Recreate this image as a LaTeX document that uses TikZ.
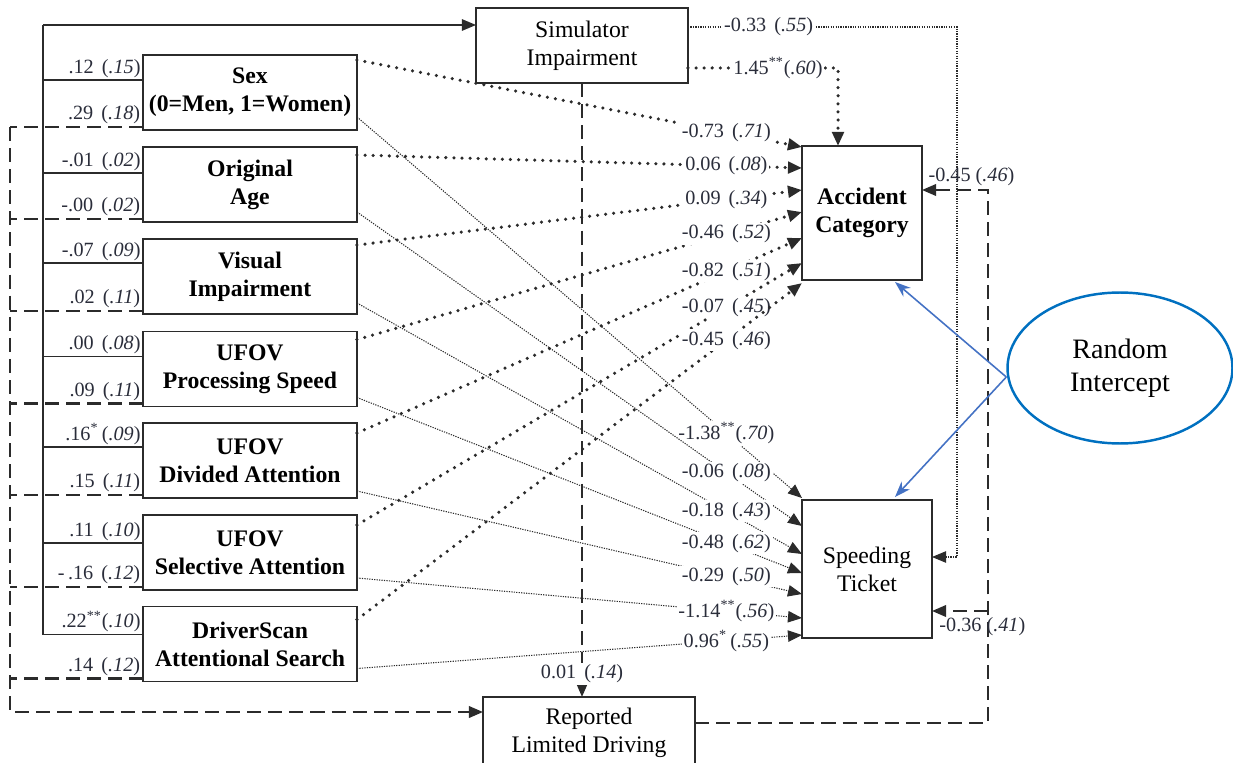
\documentclass[tikz,border=0pt]{standalone}
\usepackage{fontspec}
\setmainfont{Liberation Serif}
\usepackage{xcolor}
\definecolor{labelcol}{HTML}{2A2D3A}
\definecolor{linecol}{HTML}{2B2B2B}
\definecolor{riblue}{HTML}{0070C0}
\definecolor{riarrow}{HTML}{4472C4}
\usepackage{tikz}
\usetikzlibrary{arrows.meta, shapes.geometric, calc}

\newcommand{\boxfont}{\fontsize{13.5pt}{16pt}\selectfont}
\newcommand{\estfont}{\fontsize{11.5pt}{13pt}\selectfont}
\newcommand{\est}[2]{#1\hspace{0.4em}(\textit{#2})}

\tikzset{
  varbox/.style={draw=linecol, line width=0.8pt, outer sep=0pt, inner sep=1pt, align=center,
    minimum width=4.28cm, minimum height=1.5cm, font=\boxfont\bfseries},
  outbox/.style={draw=linecol, line width=0.8pt, outer sep=0pt, inner sep=1pt, align=center, font=\boxfont},
  estlbl/.style={font=\estfont, text=labelcol, inner sep=1pt},
  estwhite/.style={estlbl, fill=white},
  solidln/.style={draw=linecol, line width=0.8pt},
  dashln/.style={draw=linecol, line width=1.3pt, dash pattern=on 8pt off 4pt},
  bigdot/.style={draw=linecol, line width=2pt, line cap=round, dash pattern=on 0pt off 4.6pt},
  finedot/.style={draw=linecol, line width=0.6pt, dash pattern=on 0.7pt off 0.7pt},
  riarr/.style={color=riarrow, line width=0.9pt, -{Stealth[length=9pt, width=6.5pt]}}
}

\begin{document}
\begin{tikzpicture}[x=0.02cm, y=-0.02cm, >={Triangle[length=8pt, width=6.5pt]}]
  \useasboundingbox (0,0) rectangle (1233,763);
  \clip (0,0) rectangle (1233,763);

  % predictors
  \node[varbox] (sex)   at (250,92.5)  {Sex\\(0=Men, 1=Women)};
  \node[varbox] (age)   at (250,184.5) {Original\\Age};
  \node[varbox] (vis)   at (250,276.5) {Visual\\Impairment};
  \node[varbox] (ufps)  at (250,369)   {UFOV\\Processing Speed};
  \node[varbox] (ufda)  at (250,460.5) {UFOV\\Divided Attention};
  \node[varbox] (ufsa)  at (250,552.5) {UFOV\\Selective Attention};
  \node[varbox] (dscan) at (250,644)   {DriverScan\\Attentional Search};

  % outcomes
  \node[outbox, minimum width=4.24cm, minimum height=1.5cm] (sim) at (582,45.5) {Simulator\\Impairment};
  \node[outbox, font=\boxfont\bfseries, minimum width=2.4cm, minimum height=2.68cm] (acc) at (862,213) {Accident\\Category};
  \node[outbox, minimum width=2.6cm, minimum height=2.76cm] (spd) at (867,569) {Speeding\\Ticket};
  \node[outbox, minimum width=4.24cm, minimum height=1.44cm] (rep) at (589,733) {Reported\\Limited Driving};
  \node[ellipse, draw=riblue, line width=1.4pt, inner sep=0pt, minimum width=4.5cm, minimum height=3.02cm,
    align=center, font=\fontsize{16pt}{19pt}\selectfont] (ri) at (1120,368) {Random\\Intercept};

  % predictors -> simulator impairment
  \coordinate (bustop) at (43,25);
  \draw[solidln, ->] (bustop) -- (bustop -| sim.west);
  \draw[solidln] ($(sex.north west)+(0,25)$) node[estlbl, anchor=south east] {\est{.12}{.15}} -| (bustop);
  \draw[solidln] ($(age.north west)+(0,26)$) node[estlbl, anchor=south east] {\est{-.01}{.02}} -| (bustop);
  \draw[solidln] ($(vis.north west)+(0,24)$) node[estlbl, anchor=south east] {\est{-.07}{.09}} -| (bustop);
  \draw[solidln] ($(ufps.north west)+(0,25)$) node[estlbl, anchor=south east] {\est{.00}{.08}} -| (bustop);
  \draw[solidln] ($(ufda.north west)+(0,24)$) node[estlbl, anchor=south east] {.16\textsuperscript{*}\,(\textit{.09})} -| (bustop);
  \draw[solidln] ($(ufsa.north west)+(0,28)$) node[estlbl, anchor=south east] {\est{.11}{.10}} -| (bustop);
  \draw[solidln] ($(dscan.north west)+(0,28)$) node[estlbl, anchor=south east] {.22\textsuperscript{**}(\textit{.10})} -| (bustop);

  % predictors -> reported limited driving
  \coordinate (dashtop) at (10,127);
  \draw[dashln] ($(sex.south west)+(0,-3)$) coordinate (d1) node[estlbl, anchor=south east] {\est{.29}{.18}} -- (d1 -| dashtop);
  \draw[dashln] ($(age.south west)+(0,-3)$) coordinate (d2) node[estlbl, anchor=south east] {\est{-.00}{.02}} -- (d2 -| dashtop);
  \draw[dashln] ($(vis.south west)+(0,-3)$) coordinate (d3) node[estlbl, anchor=south east] {\est{.02}{.11}} -- (d3 -| dashtop);
  \draw[dashln] ($(ufps.south west)+(0,-3)$) coordinate (d4) node[estlbl, anchor=south east] {\est{.09}{.11}} -- (d4 -| dashtop);
  \draw[dashln] ($(ufda.south west)+(0,-3)$) coordinate (d5) node[estlbl, anchor=south east] {\est{.15}{.11}} -- (d5 -| dashtop);
  \draw[dashln] ($(ufsa.south west)+(0,-3)$) coordinate (d6) node[estlbl, anchor=south east] {\est{-\,.16}{.12}} -- (d6 -| dashtop);
  \draw[dashln] ($(dscan.south west)+(0,-3)$) coordinate (d7) node[estlbl, anchor=south east] {\est{.14}{.12}} -- (d7 -| dashtop);
  \draw[dashln, ->] (dashtop) |- ($(rep.north west)+(0,15)$);

  % predictors -> accident category
  \draw[bigdot, ->] ($(sex.north east)+(0,5)$) -- node[estwhite, pos=0.83] {\est{-0.73}{.71}} ($(acc.north west)+(0,1)$);
  \draw[bigdot, ->] ($(age.north east)+(0,8)$) -- node[estwhite, pos=0.83] {\est{0.06}{.08}} ($(acc.north west)+(0,22)$);
  \draw[bigdot, ->] ($(vis.north east)+(0,6)$) -- node[estwhite, pos=0.83] {\est{0.09}{.34}} ($(acc.north west)+(0,44)$);
  \draw[bigdot, ->] ($(ufps.north east)+(0,8)$) -- node[estwhite, pos=0.83] {\est{-0.46}{.52}} ($(acc.north west)+(0,66)$);
  \draw[bigdot, ->] ($(ufda.north east)+(0,10)$) -- node[estwhite, pos=0.83] {\est{-0.82}{.51}} ($(acc.north west)+(0,92)$);
  \draw[bigdot, ->] ($(ufsa.north east)+(0,10)$) -- node[estwhite, pos=0.83] {\est{-0.07}{.45}} ($(acc.north west)+(0,117)$);
  \draw[bigdot, ->] ($(dscan.north east)+(0,13)$) -- node[estwhite, pos=0.83] {\est{-0.45}{.46}} ($(acc.north west)+(0,137)$);

  % predictors -> speeding ticket
  \draw[finedot, ->] ($(sex.south east)+(0,-13)$) -- node[estwhite, pos=0.83] {-1.38\textsuperscript{**}(\textit{.70})} ($(spd.north west)+(0,-2)$);
  \draw[finedot, ->] ($(age.south east)+(0,-10)$) -- node[estwhite, pos=0.83] {\est{-0.06}{.08}} ($(spd.north west)+(0,26)$);
  \draw[finedot, ->] ($(vis.south east)+(0,-11)$) -- node[estwhite, pos=0.83] {\est{-0.18}{.43}} ($(spd.north west)+(0,54)$);
  \draw[finedot, ->] ($(ufps.south east)+(0,-9)$) -- node[estwhite, pos=0.83] {\est{-0.48}{.62}} ($(spd.north west)+(0,73)$);
  \draw[finedot, ->] ($(ufda.south east)+(0,-7)$) -- node[estwhite, pos=0.83] {\est{-0.29}{.50}} ($(spd.north west)+(0,94)$);
  \draw[finedot, ->] ($(ufsa.south east)+(0,-12)$) -- node[estwhite, pos=0.83] {-1.14\textsuperscript{**}(\textit{.56})} ($(spd.north west)+(0,118)$);
  \draw[finedot, ->] ($(dscan.south east)+(0,-13)$) -- node[estwhite, pos=0.83] {0.96\textsuperscript{*}\,(\textit{.55})} ($(spd.north west)+(0,135)$);

  % simulator impairment -> outcomes
  \draw[finedot, ->] ($(sim.north east)+(0,19)$) -| node[estwhite, pos=0.15] {\est{-0.33}{.55}} ($(spd.east)+(25,-12)$) -- ($(spd.east)+(0,-12)$);
  \draw[bigdot, ->] ($(sim.south east)+(0,-15)$) -| node[estwhite, pos=0.3] {1.45\textsuperscript{**}(\textit{.60})} ($(acc.north west)+(36,0)$);
  \draw[dashln, ->] (sim.south) -- node[estwhite, pos=0.962] {\est{0.01}{.14}} (sim.south |- rep.north);

  % reported limited driving -> outcomes
  \draw[dashln, ->] ($(rep.east)+(0,-10)$) -| ($(acc.east)+(66,-23)$) -- node[estlbl, above=1pt, pos=0.25] {-0.45 (\textit{.46})} ($(acc.east)+(0,-23)$);
  \draw[dashln, ->] ($(spd.east)+(56,42)$) -- node[estlbl, below=2pt, pos=0.1] {-0.36 (\textit{.41})} ($(spd.east)+(0,42)$);

  % random intercept
  \draw[riarr] ($(ri.west)+(0,9)$) -- ($(acc.south east)+(-27,2)$);
  \draw[riarr] ($(ri.west)+(0,9)$) -- ($(spd.north east)+(-37,-3)$);
\end{tikzpicture}
\end{document}
